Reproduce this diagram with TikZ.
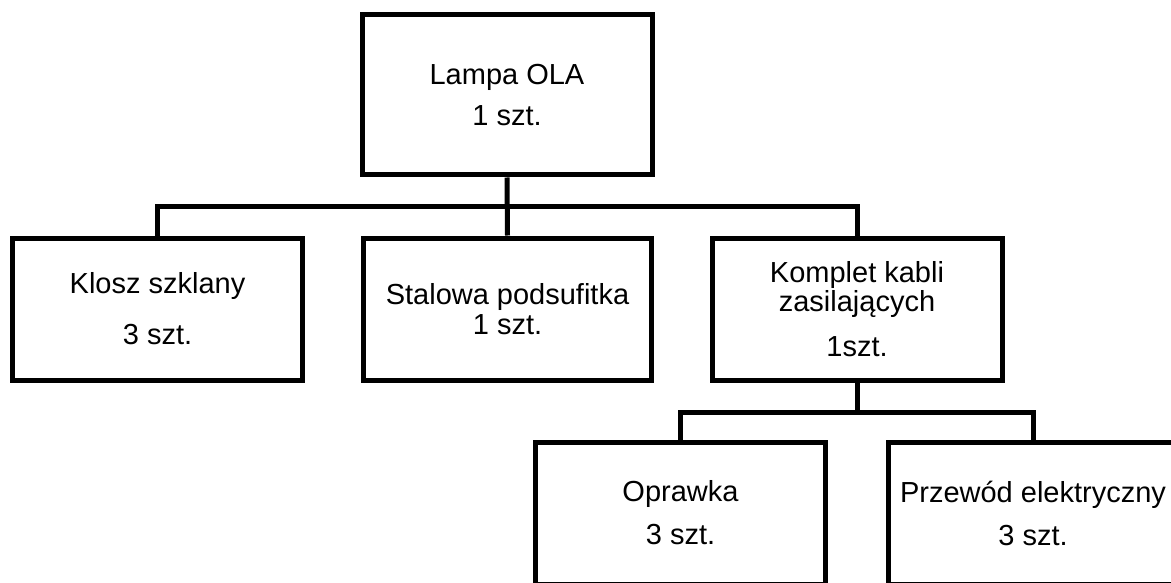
\documentclass[tikz,border=0pt]{standalone}
\usepackage{fontspec}
\setmainfont{Liberation Sans}
\begin{document}
\begin{tikzpicture}[x=1pt,y=-1pt,line width=5pt,line join=miter,
 box/.style={draw,line width=5pt,minimum width=290pt,minimum height=142pt,inner sep=0pt,align=center,font={\fontsize{29}{29}\selectfont}}]
 \clip (0,0) rectangle (1171,583);
 \node[box,minimum height=160pt] (lampa) at (507,95){Lampa OLA\\[12pt]1 szt.};
 \node[box] (klosz) at (157.5,309){Klosz szklany\\[22pt]3 szt.};
 \node[box,minimum width=288pt] (stalowa) at (507.5,309){Stalowa podsufitka\\[1pt]1 szt.};
 \node[box] (komplet) at (857,309){Komplet kabli\\zasilających\\[16pt]1szt.};
 \node[box] (oprawka) at (680.5,513){Oprawka\\[14pt]3 szt.};
 \node[box] (przewod) at (1033,513){Przewód elektryczny\\[14pt]3 szt.};
 \coordinate (bus1) at (507,207);
 \coordinate (bus2) at (857,412);
 \draw (lampa.south)--(stalowa.north);
 \draw (klosz.north)|-(bus1)-|(komplet.north);
 \draw (komplet.south)--(bus2);
 \draw (oprawka.north)|-(bus2)-|(przewod.north);
\end{tikzpicture}
\end{document}
